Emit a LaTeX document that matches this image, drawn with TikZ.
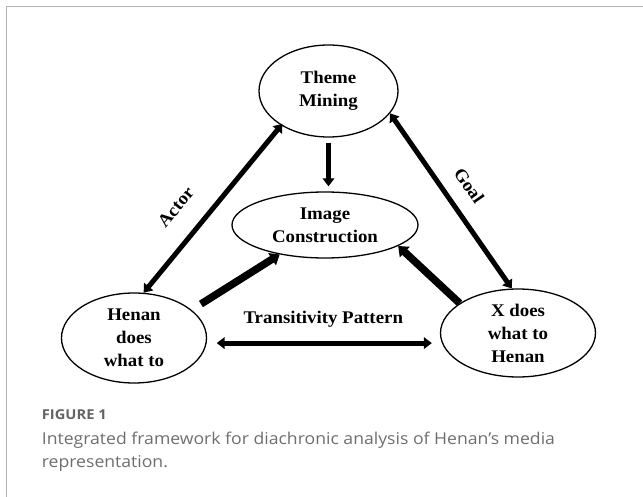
\documentclass[tikz,border=0pt]{standalone}
\usepackage{fontspec}
\setmainfont{Liberation Serif}[FakeStretch=1.06]
\newfontfamily\capfont{Open Sans}[FakeStretch=1.08]
\usetikzlibrary{arrows.meta,shapes.geometric}

\definecolor{capgray}{HTML}{6E6E6E}
\definecolor{framegray}{HTML}{B4B4B4}

\tikzset{
	oval/.style={ellipse, draw, line width=1.3pt, inner sep=0pt, align=center,
		font=\bfseries\fontsize{17.8}{23}\selectfont},
	lab/.style={inner sep=0pt, font=\bfseries\fontsize{17.8}{20}\selectfont},
	arr/.style={line width=5pt, -{Triangle[length=8pt,width=11.5pt]}},
	twoway/.style={line width=5pt, {Triangle[length=8pt,width=11.5pt]}-{Triangle[length=8pt,width=11.5pt]}},
	fatarr/.style={line width=7.5pt, -{Triangle[length=9pt,width=14pt]}}
}

\begin{document}
\begin{tikzpicture}[x=1pt,y=-1pt]
		%%%%% START %%%%%
		\useasboundingbox (0,0) rectangle (643,497);
		\draw[line width=1.3pt, framegray] (6.3,497) -- (6.3,6.5) -- (643,6.5);
		
		\node[oval, minimum width=139pt, minimum height=92pt] (theme) at (328.5,91) {Theme\\Mining};
		\node[oval, minimum width=186pt, minimum height=66pt] (image) at (325,225) {Image\\Construction};
		\node[oval, minimum width=145pt, minimum height=90pt] (henan) at (134,338) {Henan\\does\\what to};
		\node[oval, minimum width=155pt, minimum height=88pt] (xdoes) at (518,333) {X does\\what to\\Henan};
		
		\draw[twoway, shorten <=-2pt] (theme.216.6) -- node[lab, pos=.6, sloped, above=21pt] {Actor} (henan.78);
		\draw[twoway] (theme.340) -- node[lab, pos=.49, sloped, above=15pt] {Goal} (xdoes.98);
		\draw[arr, shorten <=5pt, shorten >=5pt] (theme.south) -- (theme.south |- image.north);
		\draw[fatarr, shorten <=11pt] (henan.26.3) -- (image.213);
		\draw[fatarr] (xdoes.153) -- (image.344);
		\draw[twoway, shorten <=10pt, shorten >=8pt] (henan.-4) -- node[lab, midway, above=13pt] {Transitivity Pattern} (henan.-4 -| xdoes.west);
		
		\node[anchor=base west, inner sep=0pt, text=capgray!90!black, font=\capfont\bfseries\fontsize{13.6}{15}\selectfont] (figno) at (41.7,419.5) {FIGURE 1};
		\node[anchor=base west, inner sep=0pt, align=left, text=capgray, font=\capfont\fontsize{16.3}{23.5}\selectfont] (figcap) at (41.7,467.5) {Integrated framework for diachronic analysis of Henan’s media\\representation.};
		%%%%% END %%%%%
\end{tikzpicture}
\end{document}
